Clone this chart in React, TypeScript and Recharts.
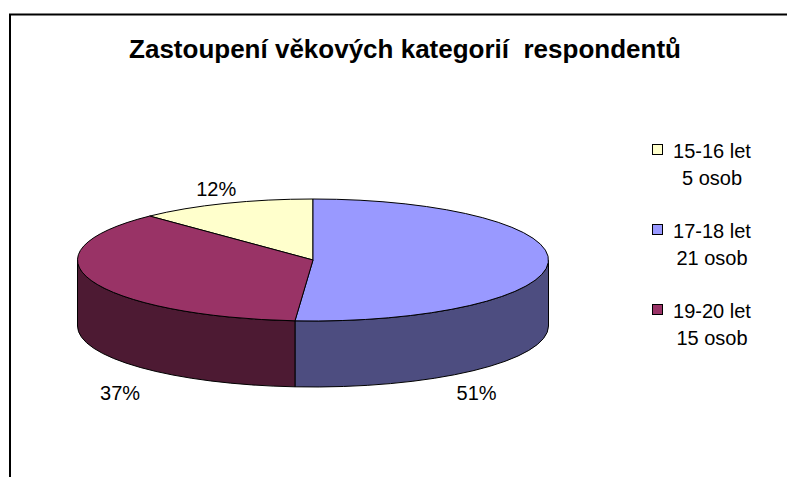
import { Cell, Legend, Pie, PieChart } from 'recharts';

const categories = ['15-16 let', '17-18 let', '19-20 let'];
const counts = [5, 21, 15];
const countLabels = ['5 osob', '21 osob', '15 osob'];

const COLORS = ['#FFFFCC', '#9999FF', '#993366'];
const TITLE = 'Zastoupení věkových kategorií  respondentů';
const FONT = 'Arial, "Liberation Sans", sans-serif';

// 3D look: flattening of the top face and height of the side wall
const TILT = 61 / 235.5;
const DEPTH = 66;
const RAD = Math.PI / 180;

const total = counts.reduce((a, b) => a + b, 0);
// first slice ends at 12 o'clock, slices run clockwise
const START = 90 + (360 * counts[0]) / total;

const data = categories.map((name, i) => ({ name, value: counts[i] }));

function shade(hex: string, f: number) {
  const n = parseInt(hex.slice(1), 16);
  const ch = [(n >> 16) & 255, (n >> 8) & 255, n & 255].map(v => Math.round(v * f));
  return `rgb(${ch[0]},${ch[1]},${ch[2]})`;
}

function SliceShape(props: any) {
  const { cx, cy, outerRadius, startAngle, endAngle, fill } = props;
  const rx = outerRadius;
  const ry = outerRadius * TILT;
  const pt = (a: number) => [cx + rx * Math.cos(a * RAD), cy - ry * Math.sin(a * RAD)];
  const lo = Math.min(startAngle, endAngle);
  const hi = Math.max(startAngle, endAngle);

  const [x1, y1] = pt(startAngle);
  const [x2, y2] = pt(endAngle);
  const large = hi - lo > 180 ? 1 : 0;
  const sweep = endAngle < startAngle ? 1 : 0;
  const top = `M${cx},${cy}L${x1},${y1}A${rx},${ry} 0 ${large} ${sweep} ${x2},${y2}Z`;

  // outer wall is visible only on the front half of the ellipse
  const sides: string[] = [];
  for (let k = -2; k <= 2; k++) {
    const s = Math.max(lo, -180 + 360 * k);
    const e = Math.min(hi, 360 * k);
    if (e > s) {
      const [ax, ay] = pt(s);
      const [bx, by] = pt(e);
      sides.push(
        `M${ax},${ay}A${rx},${ry} 0 0 0 ${bx},${by}L${bx},${by + DEPTH}` +
          `A${rx},${ry} 0 0 1 ${ax},${ay + DEPTH}Z`
      );
    }
  }

  return (
    <g>
      {sides.map((d, i) => (
        <path key={i} d={d} fill={shade(fill, 0.5)} stroke='#000' strokeWidth={1} strokeLinejoin='round' />
      ))}
      <path d={top} fill={fill} stroke='#000' strokeWidth={1} strokeLinejoin='round' />
    </g>
  );
}

function renderLabel(p: any) {
  const { cx, cy, midAngle, outerRadius, percent } = p;
  const rx = outerRadius;
  const ry = outerRadius * TILT;
  const c = Math.cos(midAngle * RAD);
  const s = Math.sin(midAngle * RAD);
  // labels of back slices sit above the rim, front ones below the wall
  const x = s >= 0 ? cx + rx * 1.1 * c : cx + rx * 0.78 * c - 20;
  const y = s >= 0 ? cy - ry * 1.25 * s : cy + ry + DEPTH + 6;
  return (
    <text
      x={x}
      y={y}
      textAnchor='middle'
      dominantBaseline='central'
      fontSize={20}
      fontFamily={FONT}
      fill='#000'
    >
      {`${Math.round(percent * 100)}%`}
    </text>
  );
}

function renderLegend() {
  return (
    <div style={{ fontFamily: FONT, fontSize: 20, lineHeight: '27px', color: '#000' }}>
      {categories.map((name, i) => (
        <div key={name} style={{ position: 'relative', height: 54, marginBottom: 26 }}>
          <span
            style={{
              position: 'absolute',
              left: 0,
              top: 6,
              width: 9,
              height: 9,
              border: '1px solid #000',
              background: COLORS[i]
            }}
          />
          <div style={{ position: 'absolute', left: 16, width: 88, textAlign: 'center' }}>
            {name}
            <br />
            {countLabels[i]}
          </div>
        </div>
      ))}
    </div>
  );
}

export default function App() {
  return (
    <div style={{ position: 'absolute', left: 0, top: 0, width: 787, height: 477, background: '#fff' }}>
      <PieChart width={787} height={477} margin={{ top: 0, right: 0, bottom: 0, left: 0 }}>
        <rect x={10} y={14.5} width={800} height={500} fill='none' stroke='#000' strokeWidth={2} />
        <text
          x={405}
          y={58}
          textAnchor='middle'
          fontSize={26}
          fontWeight='bold'
          fontFamily={FONT}
          fill='#000'
          style={{ whiteSpace: 'pre' }}
        >
          {TITLE}
        </text>
        <Pie
          data={data}
          dataKey='value'
          nameKey='name'
          cx={313}
          cy={260}
          outerRadius={235.5}
          startAngle={START}
          endAngle={START - 360}
          stroke='#000'
          shape={SliceShape}
          label={renderLabel}
          labelLine={false}
          isAnimationActive={false}
        >
          {data.map((d, i) => (
            <Cell key={d.name} fill={COLORS[i]} />
          ))}
        </Pie>
        <Legend
          layout='vertical'
          align='right'
          verticalAlign='top'
          content={renderLegend}
          wrapperStyle={{ left: 652, top: 137.6, width: 130 }}
        />
      </PieChart>
    </div>
  );
}
